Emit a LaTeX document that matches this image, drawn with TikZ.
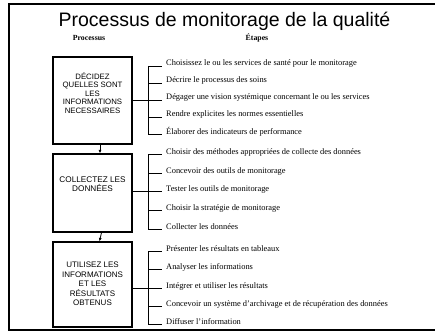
\documentclass[tikz,border=0pt]{standalone}
\usepackage{fontspec}
\setmainfont{Liberation Serif}
\newfontfamily\arialf{Liberation Sans}
\usetikzlibrary{calc,arrows.meta}
\begin{document}
\begin{tikzpicture}[x=1pt,y=-1pt,
  box/.style={draw,line width=1.2pt,minimum width=79pt,inner sep=0pt},
  boxtext/.style={align=center,inner sep=0pt},
  item/.style={font=\fontsize{8.4}{10}\selectfont,anchor=base west,inner sep=0pt},
  brk/.style={line width=0.9pt},
  flow/.style={line width=0.8pt,-{Latex[length=3.5pt,width=3pt]}},
  hdr/.style={font=\bfseries\fontsize{7.8}{9}\selectfont,anchor=base,inner sep=0pt}]
\useasboundingbox (0,0) rectangle (435,331);
% frame
\draw[line width=2pt] (435,4.5) -- (9,4.5) -- (9,329.5) -- (435,329.5);
% title and headers
\node[font=\arialf\fontsize{19.5}{22}\selectfont,anchor=base,inner sep=0pt] (title) at (224.5,27) {Processus de monitorage de la qualité};
\node[hdr] (h1) at (89,41) {Processus};
\node[hdr] (h2) at (257,41) {Étapes};
% boxes
\node[box,minimum height=87pt] (b1) at (92.5,100.5) {};
\node[box,minimum height=78pt] (b2) at (92.5,193) {};
\node[box,minimum height=85pt] (b3) at (92.5,284.5) {};
\node[boxtext,font=\arialf\fontsize{7.8}{8.5}\selectfont] (b1t) at (92.5,93) {DÉCIDEZ\\QUELLES SONT\\LES\\INFORMATIONS\\NECESSAIRES};
\node[boxtext,font=\arialf\fontsize{8.2}{9}\selectfont] (b2t) at (92.5,184.5) {COLLECTEZ LES\\DONNÉES};
\node[boxtext,font=\arialf\fontsize{8}{9.6}\selectfont] (b3t) at (92.5,284) {UTILISEZ LES\\INFORMATIONS\\ET LES\\RÉSULTATS\\OBTENUS};
% flow arrows
\draw[flow] ($(b1.south)+(7.5,0)$) -- ($(b2.north)+(7.5,0)$);
\draw[flow] ($(b2.south)+(9,0)$) -- ($(b3.north)+(7,0)$);
% items
\foreach \i/\yy/\txt in {
  1/66/Choisissez le ou les services de santé pour le monitorage,
  2/83/Décrire le processus des soins,
  3/100/Dégager une vision systémique concernant le ou les services,
  4/117/Rendre explicites les normes essentielles,
  5/134.5/Élaborer des indicateurs de performance,
  6/154.7/Choisir des méthodes appropriées de collecte des données,
  7/173.7/Concevoir des outils de monitorage,
  8/191.7/Tester les outils de monitorage,
  9/210.7/Choisir la stratégie de monitorage,
  10/229.7/Collecter les données,
  11/251.7/Présenter les résultats en tableaux,
  12/269.7/Analyser les informations,
  13/288.7/Intégrer et utiliser les résultats,
  14/306.7/Concevoir un système d’archivage et de récupération des données,
  15/324.7/Diffuser l’information}
{
  \node[item] (i\i) at (166,\yy) {\txt};
  \coordinate (k\i) at (148,\yy);
  \draw[brk] (k\i) -- ($(i\i.base west)+(-4,0)$);
}
% brackets
\draw[brk] (k1) -- (k5);
\draw[brk] (k6) -- (k10);
\draw[brk] (k11) -- (k15);
\draw[brk] (b1.east |- k3) -- (k3);
\draw[brk] (b2.east |- k8) -- (k8);
\draw[brk] (b3.east |- k13) -- (k13);
\end{tikzpicture}
\end{document}
